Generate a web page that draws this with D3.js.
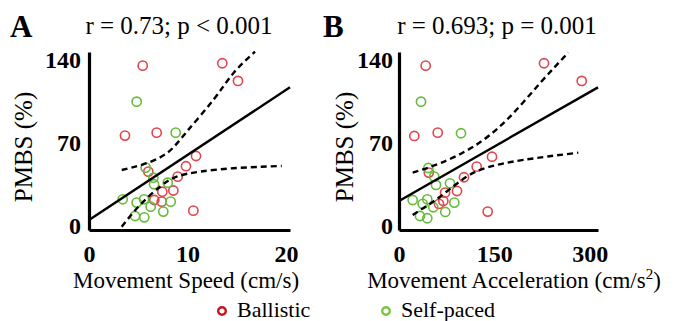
<!DOCTYPE html>
<html>
<head>
<meta charset="utf-8">
<script src="https://cdn.jsdelivr.net/npm/d3@7"></script>
<style>
  body { margin: 0; background: #fff; }
  text { font-family: "Liberation Serif", "Times New Roman", serif; fill: #000; }
</style>
</head>
<body>
<div id="main"></div>
<script>
// panel A: movement speed (cm/s) vs PMBS (%)
const speedBallistic = [5.45, 13.53, 15.12, 3.65, 6.87, 10.86, 9.84, 9.00, 6.02, 8.56, 7.44, 7.38, 6.63, 10.59];
const pmbsBallisticA = [135.2, 137.2, 122.3, 76.2, 78.7, 59.0, 50.4, 41.6, 45.8, 29.9, 28.9, 20.5, 21.9, 12.9];
const speedSelf = [4.84, 8.80, 5.75, 6.53, 6.60, 7.99, 3.42, 4.84, 5.58, 6.26, 8.29, 7.54, 4.67, 5.61];
const pmbsSelfA = [104.8, 78.7, 49.2, 40.7, 35.2, 36.5, 22.5, 19.7, 22.5, 16.3, 20.5, 12.1, 8.4, 7.3];
const fitA = { intercept: 5.1, slope: 5.48 };
const ciUpperA = [[3.32, 47.2], [5.51, 52.0], [7.89, 61.3], [9.92, 79.5], [12.62, 106.3], [14.65, 128.8], [16.85, 147.0]];
const ciLowerA = [[3.32, -0.6], [5.18, 17.7], [7.21, 33.1], [8.90, 41.6], [11.27, 45.8], [14.65, 48.7], [19.56, 50.6]];

// panel B: movement acceleration (cm/s2) vs PMBS (%)
const accBallistic = [42.0, 228.1, 287.4, 24.1, 60.9, 146.3, 122.2, 102.2, 46.9, 91.2, 72.4, 69.7, 62.9, 139.5];
const pmbsBallisticB = [135.2, 137.2, 122.3, 75.9, 78.7, 58.4, 50.0, 41.1, 45.0, 29.5, 28.1, 21.1, 18.6, 12.1];
const accSelf = [34.6, 97.5, 46.1, 55.5, 58.2, 80.2, 21.5, 37.3, 44.5, 53.9, 87.0, 72.8, 33.0, 44.5];
const pmbsSelfB = [104.8, 78.2, 48.9, 41.6, 34.6, 36.0, 21.9, 18.6, 22.5, 15.8, 19.7, 11.8, 8.4, 6.5];
const fitB = { intercept: 21.1, slope: 0.306 };
const ciUpperB = [[21.5, 45.0], [64.5, 52.9], [116.9, 66.9], [169.4, 89.4], [221.8, 120.4], [266.3, 146.2]];
const ciLowerB = [[21.5, 9.3], [64.5, 24.7], [106.5, 41.6], [143.1, 50.0], [195.5, 55.7], [282.0, 61.8]];

const yTicks = [0, 70, 140];
const xTicksA = [0, 10, 20];
const xTicksB = [0, 150, 300];
const groups = ["Ballistic", "Self-paced"];

const ctx = {
    W: 683,
    H: 321,
    red: "#e0464b",
    green: "#66bb3c",
    legendRed: "#c8141c",
    legendGreen: "#7cc444",
};

function drawPanel(svg, p) {
    const x = d3.scaleLinear().domain(p.xDomain).range(p.xRange);
    const y = d3.scaleLinear().domain([-3.4, 146.7]).range([230, 52]);
    const g = svg.append("g");

    // axes
    const xAxis = g.append("g")
        .attr("transform", `translate(0, ${y.range()[0]})`)
        .call(d3.axisBottom(x).tickValues(p.xTicks).tickSize(0).tickPadding(15));
    const yAxis = g.append("g")
        .attr("transform", `translate(${x.range()[0]}, 0)`)
        .call(d3.axisLeft(y).tickValues(yTicks).tickSize(0).tickPadding(p.yPad));
    [xAxis, yAxis].forEach(a => {
        a.select(".domain").attr("stroke", "#000").attr("stroke-width", 3.2);
        a.selectAll("text")
            .style("font-family", "'Liberation Serif', serif")
            .style("font-size", "24px")
            .style("font-weight", "bold")
            .attr("fill", "#000");
    });

    // scatter points
    const pts = [];
    p.redX.forEach((v, i) => pts.push({ x: v, y: p.redY[i], c: ctx.red }));
    p.greenX.forEach((v, i) => pts.push({ x: v, y: p.greenY[i], c: ctx.green }));
    g.selectAll("circle.pt")
        .data(pts)
        .enter()
        .append("circle")
        .attr("class", "pt")
        .attr("cx", d => x(d.x))
        .attr("cy", d => y(d.y))
        .attr("r", 4.6)
        .attr("fill", "none")
        .attr("stroke", d => d.c)
        .attr("stroke-width", 1.6);

    // regression line and confidence bands
    const line = d3.line().x(d => x(d[0])).y(d => y(d[1]));
    const x0 = p.xDomain[0], x1 = p.xDomain[1];
    g.append("path")
        .attr("d", line([[x0, p.fit.intercept], [x1, p.fit.intercept + p.fit.slope * x1]]))
        .attr("fill", "none")
        .attr("stroke", "#000")
        .attr("stroke-width", 2.4);

    const curve = d3.line().x(d => x(d[0])).y(d => y(d[1])).curve(d3.curveNatural);
    [p.ciUp, p.ciLo].forEach(band => {
        g.append("path")
            .attr("d", curve(band))
            .attr("fill", "none")
            .attr("stroke", "#000")
            .attr("stroke-width", 2.4)
            .attr("stroke-dasharray", "6,4");
    });

    // labels
    g.append("text")
        .attr("x", p.letterX).attr("y", 37)
        .style("font-size", "31px").style("font-weight", "bold")
        .text(p.letter);
    g.append("text")
        .attr("x", p.titleX).attr("y", 34)
        .attr("text-anchor", "middle")
        .style("font-size", "25px")
        .text(p.title);
    g.append("text")
        .attr("transform", `translate(${p.yLabX}, 147) rotate(-90)`)
        .attr("text-anchor", "middle")
        .style("font-size", "25px")
        .text("PMBS (%)");
    const xl = g.append("text")
        .attr("x", p.xLabX).attr("y", 288)
        .attr("text-anchor", "middle")
        .style("font-size", "23px")
        .text(p.xLabel);
    if (p.sup) {
        xl.append("tspan").attr("dy", -9).style("font-size", "15px").text(p.sup);
        xl.append("tspan").attr("dy", 9).text(")");
    }
}

function drawLegend(svg) {
    const lg = svg.append("g");
    const items = lg.selectAll("g")
        .data(groups)
        .enter()
        .append("g")
        .attr("transform", (d, i) => `translate(${i === 0 ? 222 : 386}, 311)`);
    items.append("circle")
        .attr("r", 3.8)
        .attr("fill", "none")
        .attr("stroke", (d, i) => i === 0 ? ctx.legendRed : ctx.legendGreen)
        .attr("stroke-width", 2.4);
    items.append("text")
        .attr("x", 15)
        .attr("y", 6)
        .style("font-size", "22px")
        .text(d => d);
}

function createViz() {
    const svg = d3.select("#main").append("svg")
        .attr("width", ctx.W)
        .attr("height", ctx.H);

    drawPanel(svg, {
        xDomain: [0, 20.4], xRange: [89, 290], xTicks: xTicksA, yPad: 8,
        redX: speedBallistic, redY: pmbsBallisticA, greenX: speedSelf, greenY: pmbsSelfA,
        fit: fitA, ciUp: ciUpperA, ciLo: ciLowerA,
        letter: "A", letterX: 10, title: "r = 0.73; p < 0.001", titleX: 179,
        yLabX: 32, xLabX: 186, xLabel: "Movement Speed (cm/s)"
    });
    drawPanel(svg, {
        xDomain: [0, 313], xRange: [399, 598], xTicks: xTicksB, yPad: 6,
        redX: accBallistic, redY: pmbsBallisticB, greenX: accSelf, greenY: pmbsSelfB,
        fit: fitB, ciUp: ciUpperB, ciLo: ciLowerB,
        letter: "B", letterX: 323, title: "r = 0.693; p = 0.001", titleX: 497,
        yLabX: 353, xLabX: 514, xLabel: "Movement Acceleration (cm/s", sup: "2"
    });
    drawLegend(svg);
}

createViz();
</script>
</body>
</html>
